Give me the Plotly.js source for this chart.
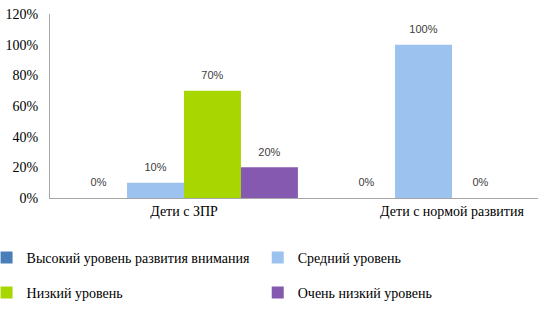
<!DOCTYPE html>
<html>
<head>
<meta charset="utf-8">
<script src="https://cdn.plot.ly/plotly-3.0.1.min.js"></script>
<style>
html,body{margin:0;padding:0;background:#fff;}
#chart{width:538px;height:309px;}
#chart .xtick text, #chart .ytick text, #chart .legendtext { font-family: "Liberation Serif", "DejaVu Serif", serif !important; }
</style>
</head>
<body>
<div id="chart"></div>
<script>
var categories = ["Дети с ЗПР", "Дети с нормой развития"];
var seriesNames = ["Высокий уровень развития внимания", "Средний уровень", "Низкий уровень", "Очень низкий уровень"];
var highLevel = [0, 0];
var mediumLevel = [0.10, 1.00];
var lowLevel = [0.70, 0];
var veryLowLevel = [0.20, null];
var yTickVals = [0, 0.2, 0.4, 0.6, 0.8, 1.0, 1.2];
var yTickText = ["0%", "20%", "40%", "60%", "80%", "100%", "120%"];

var SERIF = "Liberation Serif, DejaVu Serif, serif";
var SANS = "Liberation Sans, Arial, sans-serif";
var colors = ["#4A7EBB", "#9CC2EF", "#A8D600", "#8659B0"];
var values = [highLevel, mediumLevel, lowLevel, veryLowLevel];
var legendIds = ["legend", "legend2", "legend3", "legend4"];
var legendPos = [[-0.13, 0.165], [0.4257, 0.165], [-0.13, 0.052], [0.4257, 0.052]];

var traces = values.map(function (v, i) {
  return {
    type: "bar",
    name: seriesNames[i],
    x: categories,
    y: v,
    marker: {color: colors[i], line: {width: 0}},
    text: v.map(function (d) { return d === null ? "" : Math.round(d * 100) + "%"; }),
    texttemplate: "<span style='font-size:11px'>%{text}</span><br>&nbsp;",
    textposition: "outside",
    cliponaxis: true,
    textfont: {family: SANS, size: 6, color: "#404040"},
    legend: legendIds[i],
    hoverinfo: "skip"
  };
});

var layout = {
  width: 538,
  height: 309,
  margin: {l: 50, r: 0, t: 14, b: 111, autoexpand: false},
  paper_bgcolor: "#fff",
  plot_bgcolor: "#fff",
  font: {family: SERIF},
  barmode: "group",
  bargap: 0.15,
  bargroupgap: 0,
  showlegend: true,
  xaxis: {
    type: "category",
    range: [-0.5, 1.321],
    showline: true,
    linecolor: "#A6A6A6",
    linewidth: 1,
    ticks: "",
    showgrid: false,
    tickfont: {family: SERIF, size: 14, color: "#000"},
    fixedrange: true
  },
  yaxis: {
    range: [0, 1.2],
    tickvals: yTickVals,
    ticktext: yTickText,
    showline: true,
    linecolor: "#A6A6A6",
    linewidth: 1,
    showgrid: false,
    zeroline: false,
    ticks: "",
    ticklabelstandoff: 8,
    tickfont: {family: SERIF, size: 14, color: "#000"},
    fixedrange: true
  }
};

legendIds.forEach(function (id, i) {
  layout[id] = {
    orientation: "h",
    xref: "paper",
    yref: "container",
    xanchor: "left",
    yanchor: "middle",
    x: legendPos[i][0],
    y: legendPos[i][1],
    font: {family: SERIF, size: 14, color: "#000"},
    bgcolor: "rgba(0,0,0,0)"
  };
});

Plotly.newPlot("chart", traces, layout, {staticPlot: true, displayModeBar: false});
</script>
</body>
</html>
